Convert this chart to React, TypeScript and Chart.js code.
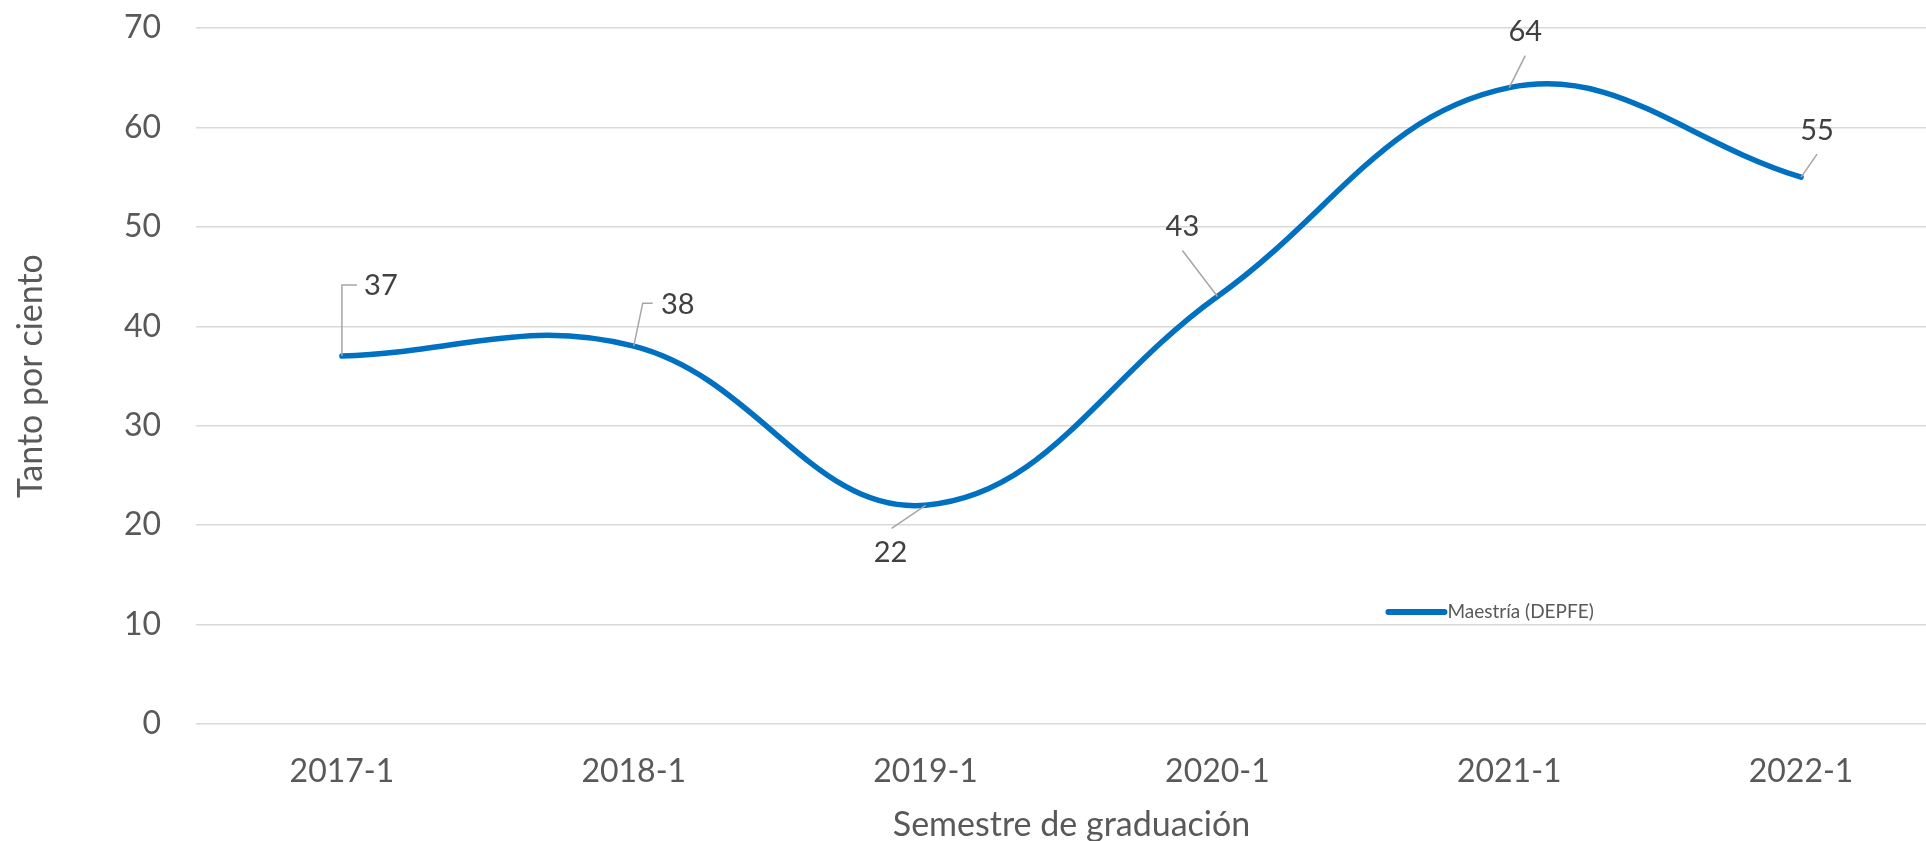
import React, { useEffect, useRef } from 'react';
import { Chart, registerables } from 'chart.js';

Chart.register(...registerables);

const categories = ['2017-1', '2018-1', '2019-1', '2020-1', '2021-1', '2022-1'];
const seriesLabel = 'Maestría (DEPFE)';
const values = [37, 38, 22, 43, 64, 55];
const yMin = 0;
const yMax = 70;
const yStep = 10;
const xTitle = 'Semestre de graduación';
const yTitle = 'Tanto por ciento';

// Data-label placement (pixel offsets from each point) and leader-line paths
const labelPlacement = [
  { dx: 39, dy: -70, path: [[0, -71], [15, -71]] },
  { dx: 44, dy: -42, path: [[9, -43], [19, -43]] },
  { dx: -35, dy: 47, path: [[-34, 23]] },
  { dx: -35, dy: -70, path: [[-35, -46]] },
  { dx: 16, dy: -56, path: [[16, -32]] },
  { dx: 16, dy: -47, path: [[16, -23]] },
];

const FONT = 'Lato, "Open Sans", sans-serif';
const LINE_COLOR = '#0070C0';
const W = 1952;
const H = 850;

const dataLabelPlugin = {
  id: 'dataLabelsLeader',
  afterDatasetsDraw(chart: any) {
    const ctx = chart.ctx;
    const meta = chart.getDatasetMeta(0);
    ctx.save();
    meta.data.forEach((pt: any, i: number) => {
      const p = labelPlacement[i];
      if (!p) return;
      ctx.beginPath();
      ctx.moveTo(pt.x, pt.y);
      p.path.forEach(([dx, dy]) => ctx.lineTo(pt.x + dx, pt.y + dy));
      ctx.strokeStyle = '#A6A6A6';
      ctx.lineWidth = 1.5;
      ctx.stroke();
      ctx.fillStyle = '#404040';
      ctx.font = `29px ${FONT}`;
      ctx.textAlign = 'center';
      ctx.textBaseline = 'middle';
      ctx.fillText(String(chart.data.datasets[0].data[i]), pt.x + p.dx, pt.y + p.dy);
    });
    ctx.restore();
  },
};

const innerLegendPlugin = {
  id: 'innerLegend',
  afterDraw(chart: any) {
    const { ctx, chartArea } = chart;
    const ds = chart.data.datasets[0];
    const x = chartArea.left + (chartArea.right - chartArea.left) * 0.681;
    const y = chartArea.top + (chartArea.bottom - chartArea.top) * 0.839;
    ctx.save();
    ctx.beginPath();
    ctx.moveTo(x, y);
    ctx.lineTo(x + 56, y);
    ctx.strokeStyle = ds.borderColor;
    ctx.lineWidth = 6;
    ctx.lineCap = 'round';
    ctx.stroke();
    ctx.fillStyle = '#595959';
    ctx.font = `19px ${FONT}`;
    ctx.textAlign = 'left';
    ctx.textBaseline = 'middle';
    ctx.fillText(ds.label, x + 59, y);
    ctx.restore();
  },
};

export default function App() {
  const ref = useRef<HTMLCanvasElement | null>(null);

  useEffect(() => {
    if (!ref.current) return;
    const chart = new Chart(ref.current, {
      type: 'line',
      data: {
        labels: categories,
        datasets: [
          {
            label: seriesLabel,
            data: values,
            borderColor: LINE_COLOR,
            backgroundColor: LINE_COLOR,
            borderWidth: 5.5,
            pointRadius: 0,
            tension: 0.4,
            fill: false,
            borderCapStyle: 'round',
          },
        ],
      },
      options: {
        responsive: false,
        animation: false,
        devicePixelRatio: 1,
        layout: { padding: { left: 0, right: 5, top: 28, bottom: 0 } },
        plugins: {
          legend: { display: false },
          tooltip: { enabled: false },
          title: { display: false },
        },
        scales: {
          x: {
            offset: true,
            afterFit: (scale: any) => {
              scale.height = 126;
              scale.paddingLeft = 0;
              scale.paddingRight = 0;
            },
            grid: { display: false, drawTicks: false },
            border: { display: false },
            ticks: {
              color: '#595959',
              font: { family: FONT, size: 32 },
              padding: 28,
              maxRotation: 0,
              autoSkip: false,
            },
            title: {
              display: true,
              text: xTitle,
              color: '#595959',
              font: { family: FONT, size: 34 },
              padding: { top: 0, bottom: 4.5 },
            },
          },
          y: {
            min: yMin,
            max: yMax,
            afterFit: (scale: any) => {
              scale.width = 196;
              scale.paddingTop = 0;
              scale.paddingBottom = 0;
            },
            grid: { color: '#D9D9D9', lineWidth: 1.5, drawTicks: false },
            border: { display: false },
            ticks: {
              stepSize: yStep,
              color: '#595959',
              font: { family: FONT, size: 32 },
              padding: 35,
            },
            title: {
              display: true,
              text: yTitle,
              color: '#595959',
              font: { family: FONT, size: 34 },
              padding: { top: 11, bottom: 0 },
            },
          },
        },
      },
      plugins: [dataLabelPlugin, innerLegendPlugin],
    } as any);
    return () => chart.destroy();
  }, []);

  return (
    <div style={{ position: 'fixed', left: 0, top: 0, width: W, height: H, background: '#fff' }}>
      <canvas ref={ref} width={W} height={H} style={{ display: 'block', width: W, height: H }} />
    </div>
  );
}
